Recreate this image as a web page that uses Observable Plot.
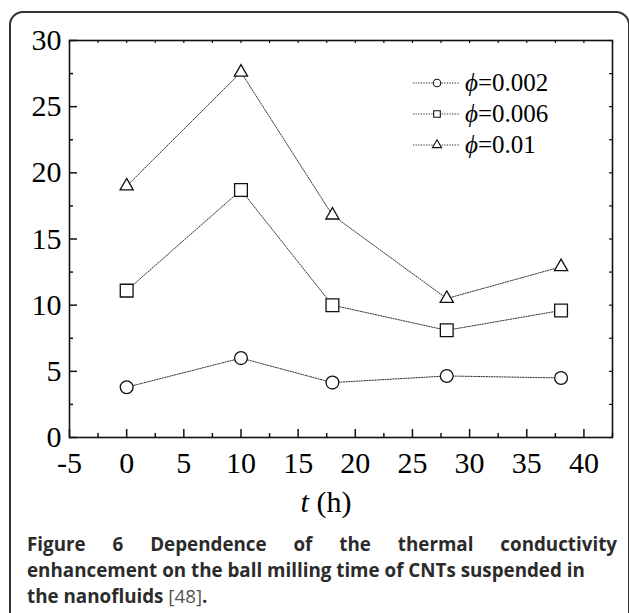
<!DOCTYPE html>
<html><head><meta charset="utf-8">
<script src="https://cdn.jsdelivr.net/npm/d3@7"></script>
<script src="https://cdn.jsdelivr.net/npm/@observablehq/plot@0.6"></script>
<style>
html,body{margin:0;padding:0;background:#fff;overflow:hidden;}
#wrap{position:relative;width:629px;height:613px;overflow:hidden;background:#fff;}
#box{position:absolute;left:9px;top:11px;width:621px;height:650px;border:2px solid #333;border-radius:14px;box-sizing:border-box;}
#chart{position:absolute;left:0;top:0;}
#xlabel{position:absolute;left:226px;top:484px;width:200px;text-align:center;font-family:"Liberation Serif",serif;font-size:30px;line-height:36px;color:#000;}
#legend{position:absolute;left:0;top:0;}
.lrow{position:absolute;left:413px;height:30px;display:flex;align-items:center;font-family:"Liberation Serif",serif;font-size:25px;color:#000;white-space:nowrap;}
#caption{position:absolute;left:27px;top:531px;width:590px;font-family:"Open Sans",sans-serif;font-weight:700;font-size:18.8px;line-height:26px;color:#2b2b2b;}
#caption .l1{text-align:justify;text-align-last:justify;}
#caption .ref{font-weight:400;color:#555;}
</style>
</head><body>
<div id="wrap">
  <div id="box"></div>
  <div id="chart"></div>
  <div id="legend"></div>
  <div id="xlabel"><i>t</i> (h)</div>
  <div id="caption">
    <div class="l1">Figure 6 Dependence of the thermal conductivity</div>
    <div>enhancement on the ball milling time of CNTs suspended in</div>
    <div>the nanofluids <span class="ref">[48]</span>.</div>
  </div>
</div>
<script>
// ---- data ----
const millingTime = [0, 10, 18, 28, 38];
const phi002 = [3.8, 6.0, 4.15, 4.65, 4.5];
const phi006 = [11.1, 18.7, 10.0, 8.1, 9.6];
const phi01  = [19.0, 27.6, 16.8, 10.5, 12.9];
const seriesNames = ["0.002", "0.006", "0.01"];
const seriesSymbols = ["circle", "square", "triangle"];
const xTickLabels = [-5, 0, 5, 10, 15, 20, 25, 30, 35, 40];
const yTickLabels = [0, 5, 10, 15, 20, 25, 30];
const xMinorTicks = [-2.5, 2.5, 7.5, 12.5, 17.5, 22.5, 27.5, 32.5, 37.5, 42.5];
const yMinorTicks = [2.5, 7.5, 12.5, 17.5, 22.5, 27.5];

const seriesValues = [phi002, phi006, phi01];
const rows = [];
seriesValues.forEach((vals, i) => vals.forEach((v, j) => rows.push({s: seriesNames[i], t: millingTime[j], v})));

const W = 629, H = 525, mL = 69, mR = 17, mT = 40, mB = 88;
const innerW = W - mL - mR, innerH = H - mT - mB;
const allX = xTickLabels.concat(xMinorTicks);
const allY = yTickLabels.concat(yMinorTicks);
const ink = "#111";
const dotR = {"circle": 6.4, "square": 7.2, "triangle": 4.9};

const marks = [
  Plot.frame({stroke: ink, strokeWidth: 1.6}),
  Plot.tickX(xTickLabels, {x: d => d, insetTop: innerH - 8, stroke: ink, strokeWidth: 1.5}),
  Plot.tickX(xMinorTicks, {x: d => d, insetTop: innerH - 4, stroke: ink, strokeWidth: 1.5}),
  Plot.tickX(allX, {x: d => d, insetBottom: innerH - 3, stroke: ink, strokeWidth: 1.2}),
  Plot.tickY(yTickLabels, {y: d => d, insetRight: innerW - 8, stroke: ink, strokeWidth: 1.5}),
  Plot.tickY(yMinorTicks, {y: d => d, insetRight: innerW - 4, stroke: ink, strokeWidth: 1.5}),
  Plot.tickY(allY, {y: d => d, insetLeft: innerW - 3, stroke: ink, strokeWidth: 1.2}),
  Plot.axisX(xTickLabels, {tickSize: 0, tickPadding: 14, tickFormat: d => String(d), label: null, fill: "#000"}),
  Plot.axisY(yTickLabels, {tickSize: 0, tickPadding: 8, tickFormat: d => String(d), label: null, fill: "#000"}),
  Plot.line(rows, {x: "t", y: "v", z: "s", stroke: "#333", strokeWidth: 1, strokeDasharray: "1.3 1.3"})
];
seriesNames.forEach((name, i) => {
  const sym = seriesSymbols[i];
  marks.push(Plot.dot(rows.filter(d => d.s === name), {x: "t", y: "v", symbol: () => sym, r: dotR[sym], fill: "white", stroke: ink, strokeWidth: 1.3}));
});

const chart = Plot.plot({
  width: W, height: H,
  marginLeft: mL, marginRight: mR, marginTop: mT, marginBottom: mB,
  style: {fontFamily: "'Liberation Serif', serif", fontSize: "30px", background: "transparent", color: "#000"},
  x: {domain: [-5, 42.5], label: null},
  y: {domain: [0, 30], label: null},
  symbol: {domain: seriesSymbols, range: seriesSymbols},
  marks
});
document.getElementById("chart").appendChild(chart);

// legend
const legend = d3.select("#legend");
const legendY = [83, 114, 145];
seriesNames.forEach((name, i) => {
  const row = legend.append("div").attr("class", "lrow").style("top", (legendY[i] - 15) + "px");
  const svg = row.append("svg").attr("width", 52).attr("height", 30);
  svg.append("line").attr("x1", 0).attr("x2", 47).attr("y1", 15).attr("y2", 15)
    .attr("stroke", "#333").attr("stroke-width", 1).attr("stroke-dasharray", "1.3 1.3");
  const sym = d3.symbol().type(seriesSymbols[i] === "circle" ? d3.symbolCircle : seriesSymbols[i] === "square" ? d3.symbolSquare : d3.symbolTriangle)
    .size(seriesSymbols[i] === "triangle" ? 36 : 44);
  svg.append("path").attr("d", sym()).attr("transform", "translate(24,15)")
    .attr("fill", "white").attr("stroke", ink).attr("stroke-width", 1.1);
  const txt = row.append("span");
  txt.append("i").text("ϕ");
  txt.append("span").text("=" + name);
});
</script>
</body></html>
